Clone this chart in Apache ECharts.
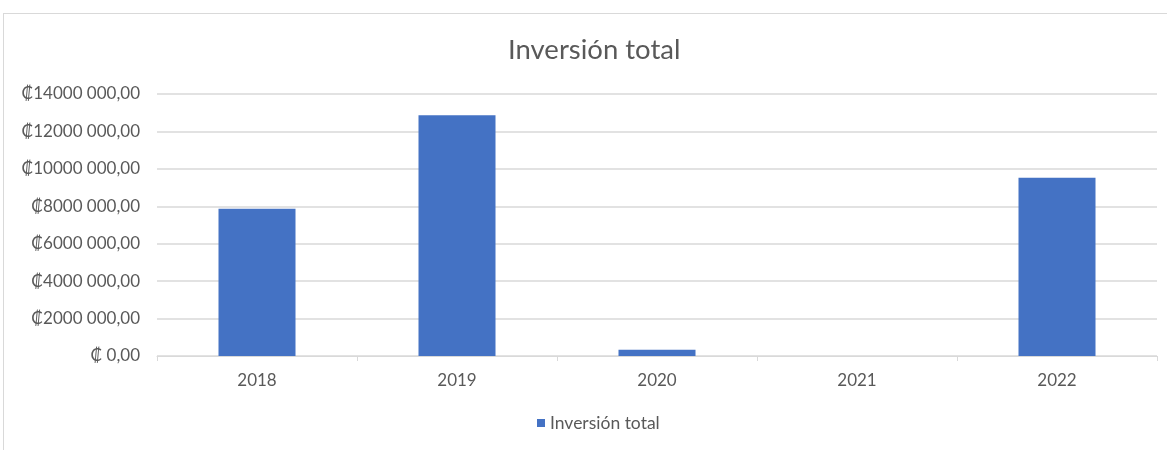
<!DOCTYPE html>
<html>
<head>
<meta charset="utf-8">
<script src="https://cdn.jsdelivr.net/npm/echarts@6/dist/echarts.min.js"></script>
<style>
  html, body { margin: 0; padding: 0; background: #fff; }
  #frame { position: absolute; left: 3px; top: 13px; width: 1170px; height: 450px; border: 1px solid #d9d9d9; box-sizing: border-box; }
  #chart { position: absolute; left: 0; top: 0; width: 1167px; height: 450px; }
</style>
</head>
<body>
<div id="frame"></div>
<div id="chart"></div>
<script>
var years = ['2018', '2019', '2020', '2021', '2022'];
var inversion = [7870000, 12870000, 330000, 0, 9530000];
var seriesName = 'Inversión total';

function colones(v) {
  if (v === 0) return '₡ 0,00';
  var miles = Math.floor(v / 1000);
  var resto = String(v % 1000);
  while (resto.length < 3) resto = '0' + resto;
  return '₡' + miles + ' ' + resto + ',00';
}

var el = echarts.init(document.getElementById('chart'));
var opt = {
  animation: false,
  title: {
    text: seriesName,
    left: 503,
    top: 31,
    textStyle: { fontFamily: 'Lato', fontSize: 27.5, fontWeight: 'normal', color: '#595959' }
  },
  legend: {
    data: [seriesName],
    bottom: 13,
    left: 532,
    icon: 'rect',
    itemWidth: 8,
    itemHeight: 8,
    itemGap: 6,
    textStyle: { fontFamily: 'Lato', fontSize: 17.5, color: '#595959' }
  },
  grid: { left: 157, right: 10, top: 94, bottom: 94 },
  xAxis: {
    type: 'category',
    data: years,
    axisLine: { lineStyle: { color: '#d9d9d9', width: 1 } },
    axisTick: { show: true, length: 5, lineStyle: { color: '#d9d9d9' } },
    axisLabel: { fontFamily: 'Lato', fontSize: 17, color: '#595959', margin: 16 }
  },
  yAxis: {
    type: 'value',
    min: 0,
    max: 14000000,
    interval: 2000000,
    axisLine: { show: false },
    axisTick: { show: false },
    splitLine: { lineStyle: { color: '#d9d9d9', width: 1.5 } },
    axisLabel: { fontFamily: 'Lato', fontSize: 17, color: '#595959', margin: 17, formatter: colones }
  },
  series: [{
    name: seriesName,
    type: 'bar',
    data: inversion,
    barWidth: '38.5%',
    itemStyle: { color: '#4472c4' }
  }]
};
el.setOption(opt);
</script>
</body>
</html>
